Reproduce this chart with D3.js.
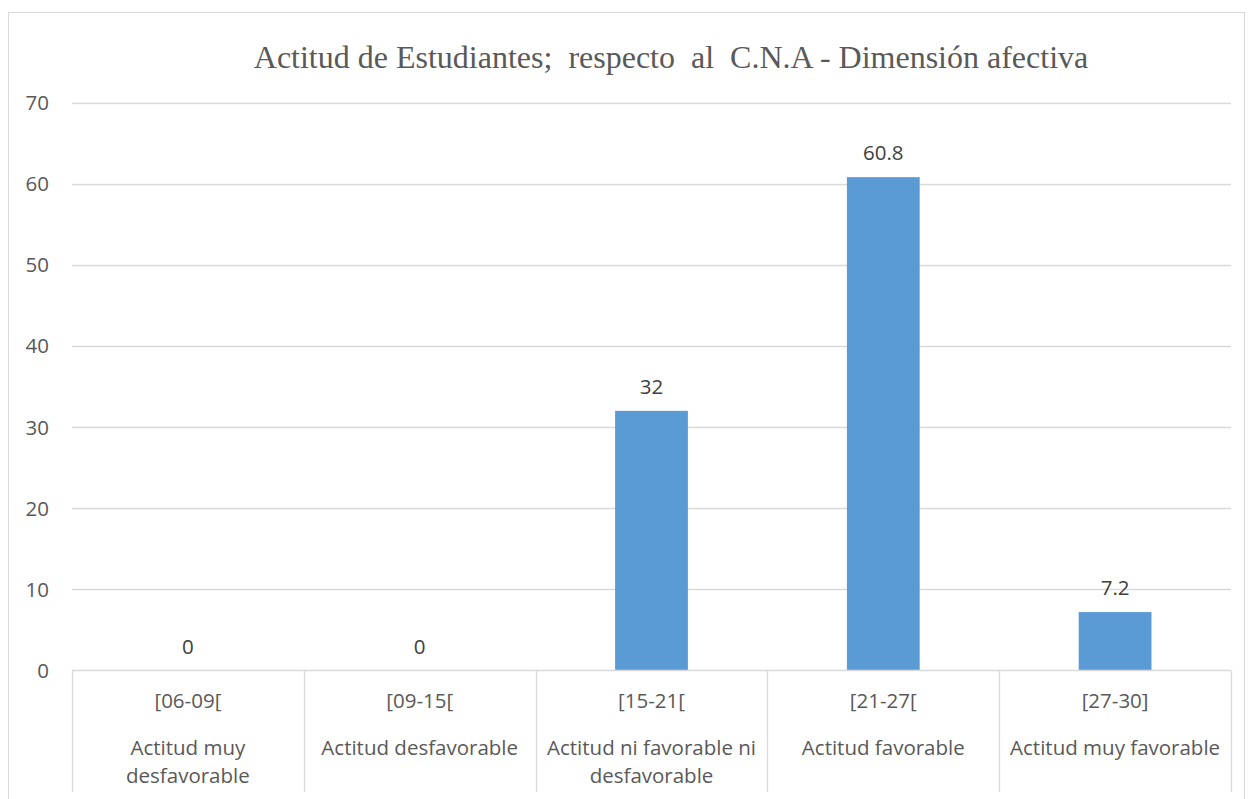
<!DOCTYPE html>
<html><head><meta charset="utf-8">
<script src="https://cdn.jsdelivr.net/npm/d3@7"></script>
<style>body{margin:0;background:#fff}svg{display:block}</style>
</head><body>
<script>
const ranges = ["[06-09[", "[09-15[", "[15-21[", "[21-27[", "[27-30]"];
const descriptions = [["Actitud muy", "desfavorable"], ["Actitud desfavorable"], ["Actitud ni favorable ni", "desfavorable"], ["Actitud favorable"], ["Actitud muy favorable"]];
const values = [0, 0, 32, 60.8, 7.2];
const valueLabels = ["0", "0", "32", "60.8", "7.2"];
const yTicks = [0, 10, 20, 30, 40, 50, 60, 70];
const title = "Actitud de Estudiantes;  respecto  al  C.N.A - Dimensión afectiva";

(function () {
const W = 1250, H = 799;
const svg = d3.select("body").append("svg").attr("width", W).attr("height", H);
const font = "'Open Sans', 'Noto Sans', sans-serif";
const fs = 20.5;
const txt = "#595959", grid = "#d9d9d9";

svg.append("rect").attr("x", 8.5).attr("y", 12.5).attr("width", 1236).attr("height", 800)
  .attr("fill", "none").attr("stroke", grid).attr("stroke-width", 1);

const pLeft = 72, pRight = 1231, pTop = 102.5, pBase = 670.5;
const x = d3.scaleBand().domain(ranges).range([pLeft, pRight]).paddingInner(0).paddingOuter(0);
const y = d3.scaleLinear().domain([0, 70]).range([pBase, pTop]);

svg.append("text").attr("x", 671).attr("y", 68).attr("text-anchor", "middle")
  .attr("font-family", "'Liberation Serif', 'Times New Roman', serif").attr("font-size", 32)
  .attr("fill", txt).style("white-space", "pre").text(title);

svg.append("g").selectAll("line").data(yTicks.filter(d => d > 0)).join("line")
  .attr("x1", pLeft).attr("x2", pRight).attr("y1", d => Math.round(y(d)) + 0.5).attr("y2", d => Math.round(y(d)) + 0.5)
  .attr("stroke", grid).attr("stroke-width", 1.3);

svg.append("g").selectAll("text").data(yTicks).join("text")
  .attr("x", 49).attr("y", d => y(d) + 7.5).attr("text-anchor", "end")
  .attr("font-family", font).attr("font-size", fs).attr("fill", txt).text(d => d);

const bw = x.bandwidth() * 0.314;
svg.append("g").selectAll("rect").data(values).join("rect")
  .attr("x", (d, i) => x(ranges[i]) + x.bandwidth() / 2 - bw / 2)
  .attr("y", d => y(d)).attr("width", bw).attr("height", d => y(0) - y(d))
  .attr("fill", "#5b9bd5");

svg.append("g").selectAll("text").data(values).join("text")
  .attr("x", (d, i) => x(ranges[i]) + x.bandwidth() / 2)
  .attr("y", d => y(d) - 17).attr("text-anchor", "middle")
  .attr("font-family", font).attr("font-size", fs).attr("fill", "#404040")
  .text((d, i) => valueLabels[i]);

svg.append("line").attr("x1", pLeft).attr("x2", pRight).attr("y1", pBase).attr("y2", pBase)
  .attr("stroke", grid).attr("stroke-width", 1.3);
const bounds = ranges.map(r => x(r)).concat([pRight]);
svg.append("g").selectAll("line").data(bounds).join("line")
  .attr("x1", d => Math.round(d) + 0.5).attr("x2", d => Math.round(d) + 0.5)
  .attr("y1", pBase).attr("y2", 792).attr("stroke", grid).attr("stroke-width", 1.3);

svg.append("g").selectAll("text").data(ranges).join("text")
  .attr("x", d => x(d) + x.bandwidth() / 2).attr("y", 708).attr("text-anchor", "middle")
  .attr("font-family", font).attr("font-size", fs).attr("fill", txt).text(d => d);

const dg = svg.append("g").selectAll("text").data(descriptions).join("text")
  .attr("text-anchor", "middle").attr("font-family", font).attr("font-size", fs).attr("fill", txt);
dg.each(function (d, i) {
  const cx = x(ranges[i]) + x.bandwidth() / 2;
  d3.select(this).selectAll("tspan").data(d).join("tspan")
    .attr("x", cx).attr("y", (t, j) => 755 + j * 28).text(t => t);
});
})();
</script>
</body></html>
